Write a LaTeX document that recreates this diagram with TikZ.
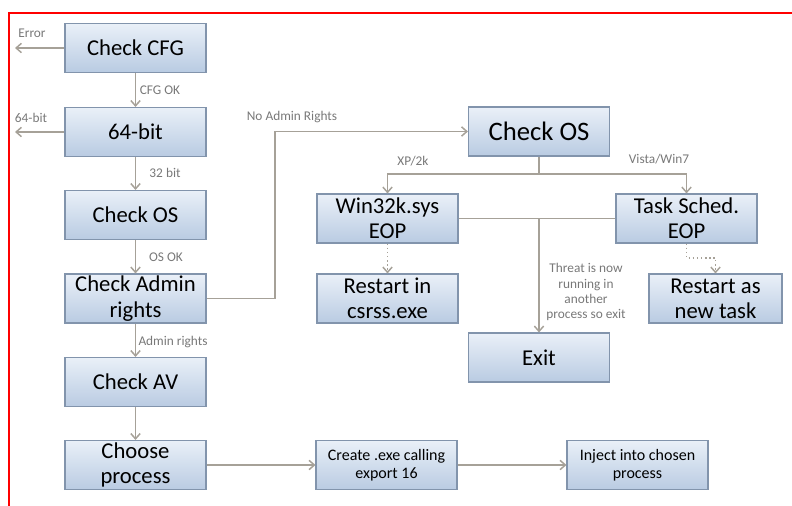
\documentclass[tikz,border=0pt]{standalone}
\usepackage{fontspec}
\setmainfont{Carlito}
\usepackage{xcolor}
\usetikzlibrary{positioning, arrows.meta}

\definecolor{boxtop}{RGB}{234,240,248}
\definecolor{boxbot}{RGB}{185,203,226}
\definecolor{boxline}{RGB}{130,148,172}
\definecolor{connline}{RGB}{166,161,152}
\definecolor{labgray}{RGB}{120,120,120}

\tikzset{
  flowbox/.style={rectangle, draw=boxline, line width=0.8pt, top color=boxtop,
    bottom color=boxbot, minimum width=105.75pt, minimum height=36.75pt,
    inner sep=1pt, align=center, font=\fontsize{17}{19}\selectfont},
  smallbox/.style={flowbox, font=\fontsize{12}{13.5}\selectfont},
  conn/.style={draw=connline, line width=1.1pt, -{Straight Barb[length=4pt,width=7pt]}},
  plainline/.style={draw=connline, line width=1.1pt},
  dotconn/.style={conn, dotted},
  lab/.style={text=labgray, inner sep=0.75pt, align=center, font=\fontsize{10}{11.3}\selectfont}
}

\begin{document}
\begin{tikzpicture}[x=0.75pt,y=0.75pt,yscale=-1,xscale=1]
\useasboundingbox (0,0) rectangle (792,506);

%Red frame
\draw [red, line width=1.5pt] (9,506) -- (9,13) -- (792,13) ;

%Left column
\node (cfg) at (135.5,48) [flowbox] {Check CFG};
\node (bit) at (135.5,132) [flowbox] {64-bit};
\node (osl) at (135.5,215) [flowbox] {Check OS};
\node (adm) at (135.5,298.5) [flowbox] {Check Admin\\rights};
\node (av) at (135.5,382) [flowbox] {Check AV};
\node (choose) at (135.5,465) [flowbox] {Choose\\process};

%Bottom row
\node (create) at (386.5,465) [smallbox] {Create .exe calling\\export 16};
\node (inject) at (637.5,465) [smallbox] {Inject into chosen\\process};

%Right part
\node (osr) at (539,131.5) [flowbox, font=\fontsize{20}{22}\selectfont] {Check OS};
\node (win) at (387.5,218.5) [flowbox] {Win32k.sys\\EOP};
\node (task) at (686.5,218.5) [flowbox] {Task Sched.\\EOP};
\node (csrss) at (387.5,298.5) [flowbox] {Restart in\\csrss.exe};
\node (newtask) at (715.5,298.5) [flowbox, minimum width=99.75pt] {Restart as\\new task};
\node (exit) at (539,357.5) [flowbox] {Exit};

%Free ends and bends
\coordinate (errend) at (15,48);
\coordinate (bitend) at (15,132);
\coordinate (noadm) at (275,131.5);
\coordinate (split) at (539,174);
\coordinate (dotbend) at (715.5,258);

%Straight Lines
\draw [conn] (cfg.west) -- (errend) ;
\draw [conn] (bit.west) -- (bitend) ;
\draw [conn] (cfg) -- (bit) ;
\draw [conn] (bit) -- (osl) ;
\draw [conn] (osl) -- (adm) ;
\draw [conn] (adm) -- (av) ;
\draw [conn] (av) -- (choose) ;
\draw [conn] (choose) -- (create) ;
\draw [conn] (create) -- (inject) ;
\draw [conn] (adm.east) -| (noadm) -- (osr.west) ;
\draw [plainline] (osr.south) -- (split) ;
\draw [conn] (split) -| (win.north) ;
\draw [conn] (split) -| (task.north) ;
\draw [plainline] (win.east) -- (task.west) ;
\draw [conn] (win.east -| exit.north) -- (exit.north) ;
\draw [dotconn] (win.south) -- (csrss.north) ;
\draw [dotconn] (task.south) |- (dotbend) -- (newtask.north) ;

% Text Node
\node (laberr) at (32,33) [lab] {Error};
\node (labbit) at (31,118) [lab] {64-bit};
\node (labcfg) at (160,90) [lab] {CFG OK};
\node (lab32) at (165,173) [lab] {32 bit};
\node (labos) at (166,257) [lab] {OS OK};
\node (labadm) at (173,342) [lab] {Admin rights};
\node (labnoadm) at (292,117) [lab] {No Admin Rights};
\node (labxp) at (413,161) [lab] {XP/2k};
\node (labvista) at (659,159) [lab] {Vista/Win7};
\node (labthreat) at (586,292) [lab] {Threat is now\\running in\\another\\process so exit};

\end{tikzpicture}
\end{document}
